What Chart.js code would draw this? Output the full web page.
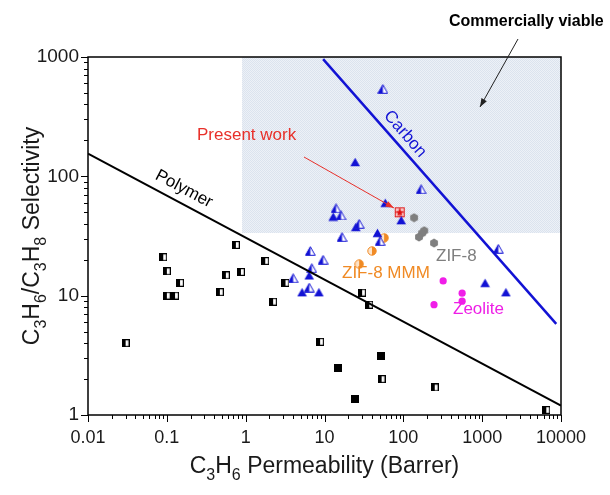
<!DOCTYPE html>
<html>
<head>
<meta charset="utf-8">
<script src="https://cdn.jsdelivr.net/npm/chart.js@4.4.0/dist/chart.umd.min.js"></script>
<style>
  html, body { margin: 0; padding: 0; background: #fff; }
  #wrap { width: 610px; height: 495px; }
</style>
</head>
<body>
<div id="wrap"><canvas id="chart" width="610" height="495"></canvas></div>
<script>
// values: x = C3H6 permeability (Barrer), y = C3H6/C3H8 selectivity
const polymerX = [0.03, 0.09, 0.1, 0.1, 0.127, 0.147, 0.47, 0.56, 0.75, 0.87, 1.77, 2.23, 3.2, 8.8, 30, 37, 53, 250, 6500];
const polymerY = [4.0, 21, 16, 10, 10, 12.8, 10.7, 14.8, 26.6, 15.8, 19.5, 8.9, 12.8, 4.1, 10.6, 8.4, 2.0, 1.7, 1.1];
const polymerFilledX = [15, 24.5, 52];
const polymerFilledY = [2.5, 1.35, 3.1];

const carbonFilledX = [24.5, 59, 12.9, 94, 25, 47, 6.4, 5.2, 8.5, 1090, 2000];
const carbonFilledY = [132, 60, 46, 43, 37.7, 33.6, 14.8, 10.7, 10.7, 12.8, 10.7];
const carbonHalfX = [55, 168, 14, 16.2, 27.5, 50.7, 16.7, 6.6, 9.6, 6.9, 4.0, 6.4, 1600];
const carbonHalfY = [540, 78, 54, 47, 40, 28.7, 31, 23.7, 20, 17, 14, 11.7, 24.7];

const mmmX = [57, 40, 27.5];
const mmmY = [30.5, 23.7, 18.4];
const zif8X = [137, 184, 173, 158, 245];
const zif8Y = [45, 35, 33.4, 31, 27.6];
const zeoliteX = [320, 557, 557, 245];
const zeoliteY = [13.3, 10.5, 9.0, 8.4];
const presentX = [90];
const presentY = [50];

// upper bound lines
const polymerLineX = [0.01, 10000];
const polymerLineY = [155, 1.2];
const carbonLineX = [9.6, 8700];
const carbonLineY = [960, 5.8];

// commercially viable region
const viableX = [0.9, 10000];
const viableY = [33.5, 1000];

const xTicks = [0.01, 0.1, 1, 10, 100, 1000, 10000];
const xTickLabels = ['0.01', '0.1', '1', '10', '100', '1000', '10000'];
const yTicks = [1, 10, 100, 1000];
const yTickLabels = ['1', '10', '100', '1000'];

const FONT = "'Liberation Sans', Arial, sans-serif";
const BLUE = '#1212d4';

const pts = (xs, ys) => xs.map((x, i) => ({ x: x, y: ys[i] }));

// small marker images
const makeMarker = (w, h, draw) => {
    const c = document.createElement('canvas');
    c.width = w; c.height = h;
    draw(c.getContext('2d'), w, h);
    return c;
};

const halfSquare = makeMarker(8, 8, (g, w, h) => {
    g.fillStyle = '#fff'; g.fillRect(0, 0, w, h);
    g.fillStyle = '#000'; g.fillRect(0, 0, 4, h);
    g.strokeStyle = '#000'; g.lineWidth = 1.2; g.strokeRect(0.6, 0.6, w - 1.2, h - 1.2);
});
const fullSquare = makeMarker(8, 8, (g, w, h) => {
    g.fillStyle = '#000'; g.fillRect(0, 0, w, h);
});
const triPath = (g, w, h) => {
    g.beginPath(); g.moveTo(w / 2, 0.7); g.lineTo(w - 0.7, h - 0.7); g.lineTo(0.7, h - 0.7); g.closePath();
};
const fullTri = makeMarker(11, 10, (g, w, h) => {
    triPath(g, w, h); g.fillStyle = BLUE; g.fill();
});
const halfTri = makeMarker(11, 10, (g, w, h) => {
    triPath(g, w, h); g.fillStyle = '#fff'; g.fill();
    g.save(); g.beginPath(); g.rect(0, 0, w / 2, h); g.clip();
    triPath(g, w, h); g.fillStyle = BLUE; g.fill(); g.restore();
    triPath(g, w, h); g.strokeStyle = BLUE; g.lineWidth = 1; g.stroke();
});
const halfCircle = makeMarker(10, 10, (g, w, h) => {
    g.beginPath(); g.arc(5, 5, 4.2, 0, Math.PI * 2); g.fillStyle = '#fde3c8'; g.fill();
    g.beginPath(); g.arc(5, 5, 4.2, -Math.PI / 2, Math.PI / 2); g.closePath(); g.fillStyle = '#f08a24'; g.fill();
    g.beginPath(); g.arc(5, 5, 4.2, 0, Math.PI * 2); g.strokeStyle = '#f08a24'; g.lineWidth = 1; g.stroke();
});
const hexagon = makeMarker(10, 10, (g) => {
    g.beginPath();
    for (let k = 0; k < 6; k++) {
        const a = Math.PI / 6 + k * Math.PI / 3;
        const px = 5 + 4.5 * Math.cos(a), py = 5 + 4.5 * Math.sin(a);
        k ? g.lineTo(px, py) : g.moveTo(px, py);
    }
    g.closePath(); g.fillStyle = '#7f7f7f'; g.fill();
});
const presentMark = makeMarker(12, 12, (g, w, h) => {
    g.fillStyle = '#f6c4c4'; g.fillRect(1, 1, 10, 10);
    g.strokeStyle = '#e02020'; g.lineWidth = 1;
    g.strokeRect(1.5, 1.5, 9, 9);
    g.beginPath(); g.moveTo(6, 1.5); g.lineTo(6, 10.5); g.moveTo(1.5, 6); g.lineTo(10.5, 6); g.stroke();
    g.beginPath();
    for (let k = 0; k < 10; k++) {
        const r = k % 2 ? 1.8 : 4.2;
        const a = -Math.PI / 2 + k * Math.PI / 5;
        const px = 6 + r * Math.cos(a), py = 6.3 + r * Math.sin(a);
        k ? g.lineTo(px, py) : g.moveTo(px, py);
    }
    g.closePath(); g.fillStyle = '#e01010'; g.fill();
});

// shaded region with fine dotted texture
const viablePattern = (() => {
    const c = makeMarker(2, 2, (g) => {
        g.fillStyle = '#edf1f7'; g.fillRect(0, 0, 2, 2);
        g.fillStyle = '#dbe3ee'; g.fillRect(0, 0, 1, 1); g.fillRect(1, 1, 1, 1);
    });
    return document.createElement('canvas').getContext('2d').createPattern(c, 'repeat');
})();

const drawArrow = (ctx, x1, y1, x2, y2, color, head) => {
    ctx.strokeStyle = color; ctx.fillStyle = color; ctx.lineWidth = 1;
    ctx.beginPath(); ctx.moveTo(x1, y1); ctx.lineTo(x2, y2); ctx.stroke();
    const a = Math.atan2(y2 - y1, x2 - x1);
    ctx.beginPath();
    ctx.moveTo(x2, y2);
    ctx.lineTo(x2 - head * Math.cos(a - 0.35), y2 - head * Math.sin(a - 0.35));
    ctx.lineTo(x2 - head * Math.cos(a + 0.35), y2 - head * Math.sin(a + 0.35));
    ctx.closePath(); ctx.fill();
};

// text with subscripts: parts = [text, isSub]
const drawSubText = (ctx, parts, cx, baseline, size) => {
    const sub = Math.round(size * 0.68);
    let total = 0;
    parts.forEach(([t, s]) => { ctx.font = (s ? sub : size) + 'px ' + FONT; total += ctx.measureText(t).width; });
    let x = cx - total / 2;
    ctx.textAlign = 'left'; ctx.textBaseline = 'alphabetic';
    parts.forEach(([t, s]) => {
        ctx.font = (s ? sub : size) + 'px ' + FONT;
        ctx.fillText(t, x, baseline + (s ? size * 0.32 : 0));
        x += ctx.measureText(t).width;
    });
};

const rotatedText = (ctx, text, x, y, deg, color, size) => {
    ctx.save();
    ctx.translate(x, y); ctx.rotate(deg * Math.PI / 180);
    ctx.font = size + 'px ' + FONT; ctx.fillStyle = color;
    ctx.textAlign = 'center'; ctx.textBaseline = 'middle';
    ctx.fillText(text, 0, 0);
    ctx.restore();
};

const backdrop = {
    id: 'backdrop',
    beforeDatasetsDraw(chart) {
        const { ctx, scales: { x, y } } = chart;
        const l = x.getPixelForValue(viableX[0]), r = x.getPixelForValue(viableX[1]);
        const t = y.getPixelForValue(viableY[1]), b = y.getPixelForValue(viableY[0]);
        ctx.save();
        ctx.fillStyle = viablePattern;
        ctx.fillRect(l, t, r - l, b - t);
        ctx.restore();
    }
};

const frameAndNotes = {
    id: 'frameAndNotes',
    afterDraw(chart) {
        const { ctx, chartArea: a, scales: { x, y } } = chart;
        ctx.save();
        ctx.strokeStyle = '#000';
        ctx.lineWidth = 1.5;
        ctx.strokeRect(a.left, a.top, a.right - a.left, a.bottom - a.top);

        // log ticks, pointing outward
        ctx.lineWidth = 1;
        ctx.beginPath();
        xTicks.forEach((d, i) => {
            const px = Math.round(x.getPixelForValue(d)) + 0.5;
            ctx.moveTo(px, a.bottom); ctx.lineTo(px, a.bottom + 7);
            if (i < xTicks.length - 1) {
                for (let m = 2; m <= 9; m++) {
                    const mx = Math.round(x.getPixelForValue(d * m)) + 0.5;
                    ctx.moveTo(mx, a.bottom); ctx.lineTo(mx, a.bottom + 4);
                }
            }
        });
        yTicks.forEach((d, i) => {
            const py = Math.round(y.getPixelForValue(d)) + 0.5;
            ctx.moveTo(a.left, py); ctx.lineTo(a.left - 7, py);
            if (i < yTicks.length - 1) {
                for (let m = 2; m <= 9; m++) {
                    const my = Math.round(y.getPixelForValue(d * m)) + 0.5;
                    ctx.moveTo(a.left, my); ctx.lineTo(a.left - 4, my);
                }
            }
        });
        ctx.stroke();

        // axis titles
        ctx.fillStyle = '#1a1a1a';
        drawSubText(ctx, [['C', 0], ['3', 1], ['H', 0], ['6', 1], [' Permeability (Barrer)', 0]], (a.left + a.right) / 2, 473, 23);
        ctx.save();
        ctx.translate(39, (a.top + a.bottom) / 2);
        ctx.rotate(-Math.PI / 2);
        drawSubText(ctx, [['C', 0], ['3', 1], ['H', 0], ['6', 1], ['/C', 0], ['3', 1], ['H', 0], ['8', 1], [' Selectivity', 0]], 0, 0, 23);
        ctx.restore();

        // annotations
        ctx.font = 'bold 16px ' + FONT;
        ctx.fillStyle = '#000'; ctx.textAlign = 'left'; ctx.textBaseline = 'middle';
        ctx.fillText('Commercially viable', 449, 22);
        drawArrow(ctx, 518, 39, 480, 107, '#222', 9);

        ctx.font = '17px ' + FONT;
        ctx.fillStyle = '#e8302a';
        ctx.fillText('Present work', 197, 135);
        drawArrow(ctx, 304, 157, 394, 208, '#e8302a', 9);

        rotatedText(ctx, 'Polymer', 184, 189, 28, '#000', 17);
        rotatedText(ctx, 'Carbon', 405, 134, 49, BLUE, 17);

        ctx.font = '17px ' + FONT; ctx.textAlign = 'left'; ctx.textBaseline = 'middle';
        ctx.fillStyle = '#7f7f7f'; ctx.fillText('ZIF-8', 436, 256);
        ctx.fillStyle = '#f08a24'; ctx.fillText('ZIF-8 MMM', 342, 273);
        ctx.fillStyle = '#ee1ee6'; ctx.fillText('Zeolite', 453, 309);
        ctx.restore();
    }
};

const scatterSet = (xs, ys, style) => ({
    data: pts(xs, ys), pointStyle: style, showLine: false, clip: false
});

new Chart(document.getElementById('chart'), {
    type: 'scatter',
    data: {
        datasets: [
            { data: pts(polymerLineX, polymerLineY), showLine: true, borderColor: '#000', borderWidth: 2, pointRadius: 0 },
            { data: pts(carbonLineX, carbonLineY), showLine: true, borderColor: BLUE, borderWidth: 2.5, pointRadius: 0 },
            scatterSet(polymerX, polymerY, halfSquare),
            scatterSet(polymerFilledX, polymerFilledY, fullSquare),
            scatterSet(carbonHalfX, carbonHalfY, halfTri),
            scatterSet(carbonFilledX, carbonFilledY, fullTri),
            scatterSet(mmmX, mmmY, halfCircle),
            scatterSet(zif8X, zif8Y, hexagon),
            { data: pts(zeoliteX, zeoliteY), pointStyle: 'circle', pointRadius: 3.6, backgroundColor: '#f01ee8', borderWidth: 0 },
            scatterSet(presentX, presentY, presentMark)
        ]
    },
    options: {
        responsive: false,
        animation: false,
        layout: { padding: { left: 0, top: 57, right: 49, bottom: 0 } },
        plugins: { legend: { display: false }, tooltip: { enabled: false } },
        scales: {
            x: {
                type: 'logarithmic', min: 0.01, max: 10000,
                grid: { display: false, drawTicks: false },
                border: { display: false },
                afterBuildTicks: s => { s.ticks = xTicks.map(v => ({ value: v })); },
                afterFit: s => { s.height = 80; },
                ticks: {
                    padding: 12, color: '#1a1a1a', font: { family: FONT, size: 18 },
                    maxRotation: 0, autoSkip: false,
                    callback: (v, i) => xTickLabels[i]
                }
            },
            y: {
                type: 'logarithmic', min: 1, max: 1000,
                grid: { display: false, drawTicks: false },
                border: { display: false },
                afterBuildTicks: s => { s.ticks = yTicks.map(v => ({ value: v })); },
                afterFit: s => { s.width = 88; },
                ticks: {
                    padding: 9, color: '#1a1a1a', font: { family: FONT, size: 19 },
                    autoSkip: false,
                    callback: (v, i) => yTickLabels[i]
                }
            }
        }
    },
    plugins: [backdrop, frameAndNotes]
});
</script>
</body>
</html>
